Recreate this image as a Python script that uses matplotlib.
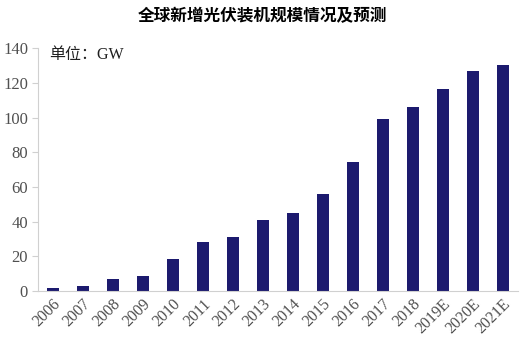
import matplotlib.pyplot as plt

# 数据
years = ["2006", "2007", "2008", "2009", "2010", "2011", "2012", "2013",
         "2014", "2015", "2016", "2017", "2018", "2019E", "2020E", "2021E"]
capacity = [1.5, 2.7, 6.7, 8.3, 18.1, 28.4, 31.0, 41.0,
            45.0, 56.1, 74.6, 99.0, 106.4, 116.8, 126.8, 130.3]

plt.rcParams['font.family'] = ['Liberation Serif', 'Noto Sans CJK SC']

fig = plt.figure(figsize=(5.25, 3.59), dpi=100)
ax = fig.add_axes([0.072, 0.19, 0.914, 0.675])

ax.bar(range(len(years)), capacity, width=0.4, color="#1c1a6e")

ax.set_xlim(-0.5, len(years) - 0.5)
ax.set_ylim(0, 140)
ax.set_yticks(range(0, 141, 20))
ax.set_xticks(range(len(years)))
ax.set_xticklabels(years, rotation=45, ha="right", rotation_mode="anchor")

for s in ["top", "right"]:
    ax.spines[s].set_visible(False)
ax.spines["left"].set_color("#d0d0d0")
ax.spines["bottom"].set_color("#d0d0d0")
ax.tick_params(axis="y", colors="#d0d0d0", labelcolor="#505050", labelsize=12, length=4, pad=3)
ax.tick_params(axis="x", length=0, labelcolor="#505050", labelsize=11.5, pad=4)

ax.text(0.023, 0.975, "单位：GW", transform=ax.transAxes, fontsize=11.5,
        color="#202020", va="center", ha="left")

fig.text(0.5, 0.955, "全球新增光伏装机规模情况及预测", ha="center", va="center",
         fontsize=12, fontweight="bold", family=["Noto Sans CJK SC"])

fig.savefig("out.png", dpi=100)
plt.close()
